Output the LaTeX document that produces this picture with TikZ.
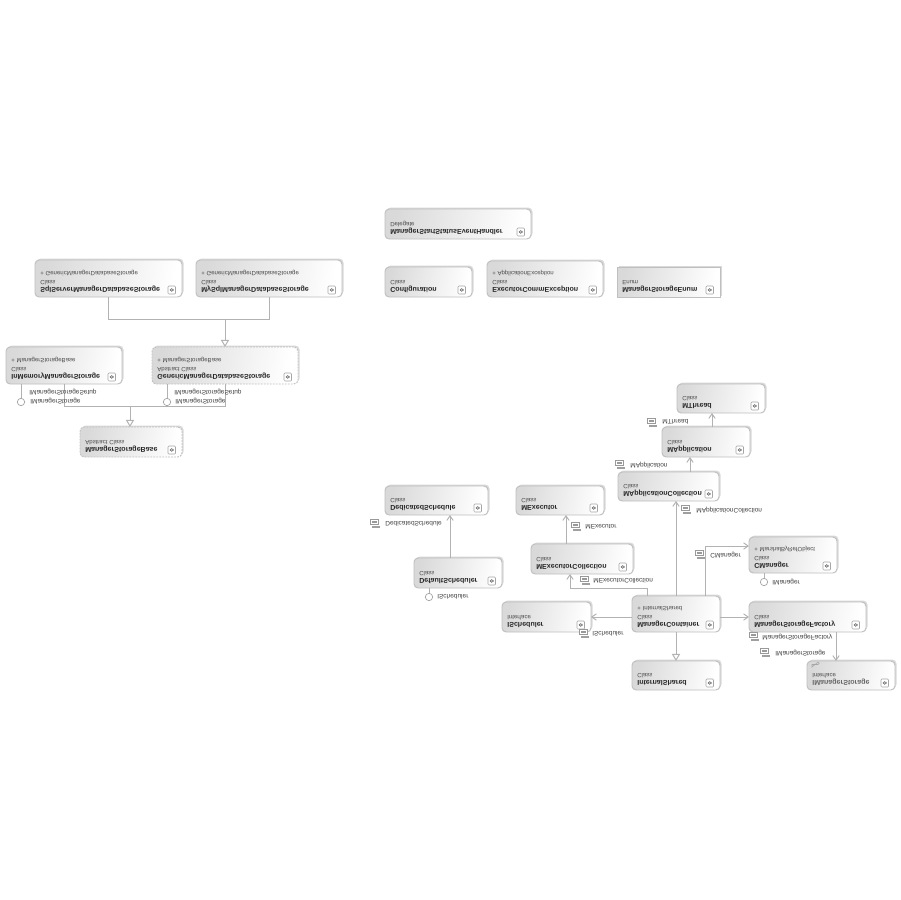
\documentclass[tikz,border=0pt]{standalone}
\usepackage{fontspec}
\setmainfont{Liberation Sans}
\usetikzlibrary{arrows.meta,calc}
\def\namecol{black!85}
\tikzset{
  x=0.02cm,y=-0.02cm,
  umlbox/.style={draw=gray!50,line width=0.55pt,rounded corners=2.4pt,left color=gray!30,right color=white,shading angle=80,outer sep=0,inner sep=0},
  umlshadow/.style={fill=gray!30,draw=none,rounded corners=2.4pt},
  finedash/.style={dash pattern=on 1pt off 0.7pt},
  nametext/.style={yscale=-1,anchor=base west,inner sep=0,font=\fontsize{4.02}{5}\selectfont\bfseries,text=\namecol},
  kindtext/.style={yscale=-1,anchor=base west,inner sep=0,font=\fontsize{3.45}{5}\selectfont,text=black!70},
  conlabel/.style={yscale=-1,anchor=west,inner sep=0,font=\fontsize{3.7}{5}\selectfont,text=black!75},
  lolli/.style={circle,draw=gray!70,fill=white,line width=0.4pt,minimum size=4.2pt,inner sep=0,outer sep=0},
  con/.style={draw=gray!60,line width=0.55pt},
  depend/.style={con,-{Straight Barb[length=2.6pt,width=3.6pt]}},
  inherit/.style={con,-{Triangle[open,fill=white,length=4pt,width=4.6pt]}},
}
\newcommand\ubox[9][]{%
  \fill[umlshadow,#1] (#2+1.5,#3-1.5) rectangle (#4+1.5,#5-1.5);
  \node[umlbox,#1,minimum width={(#4-#2)*0.02cm},minimum height={(#5-#3)*0.02cm}] (#6) at ({(#2+#4)/2},{(#3+#5)/2}) {};
  \node[nametext] at ($(#2,#5)+(5,-9.8)$) {#7};
  \node[kindtext] at ($(#2,#5)+(5,-16.8)$) {#8};
  \if\relax\detokenize{#9}\relax\else
  \node[kindtext] at ($(#2,#5)+(5,-25.5)$) {#9};
  \fi
  \draw[gray!70,line width=0.3pt,fill=white,rounded corners=0.5pt] (#4-14,#5-11) rectangle (#4-6.5,#5-3);
  \draw[gray!90!black,line width=0.3pt] (#4-12,#5-6.3) -- (#4-10.25,#5-8.5) -- (#4-8.5,#5-6.3) (#4-12,#5-7.9) -- (#4-10.25,#5-5.6) -- (#4-8.5,#5-7.9);
}
\newcommand\srvicon[2]{%
  \draw[gray!80,fill=white,line width=0.35pt] (#1-4.5,#2-4.5) rectangle (#1+3,#2+0.5);
  \draw[gray!80,line width=0.35pt] (#1-3,#2-3) -- (#1+1.5,#2-3) (#1-3,#2-1.5) -- (#1+1.5,#2-1.5);
  \fill[gray!75] (#1-3,#2+1.5) rectangle (#1+5,#2+4);
}
\begin{document}
\begin{tikzpicture}
\useasboundingbox (0,0) rectangle (900,900);
\fill[white] (0,0) rectangle (900,900);
% left hierarchy
\ubox{35}{260}{182}{297}{sqlsrv}{SqlServerManagerDatabaseStorage}{Class}{+ GenericManagerDatabaseStorage}
\ubox{196}{260}{342}{297}{mysql}{MySqlManagerDatabaseStorage}{Class}{+ GenericManagerDatabaseStorage}
\ubox{6}{347}{122}{384}{inmem}{InMemoryManagerStorage}{Class}{+ ManagerStorageBase}
\ubox[finedash]{152}{347}{298}{384}{generic}{GenericManagerDatabaseStorage}{Abstract Class}{+ ManagerStorageBase}
\ubox[finedash]{80}{427}{182}{457}{mbase}{ManagerStorageBase}{Abstract Class}{}
% top middle
\ubox{385}{209}{531}{239}{delegate}{ManagerStartStatusEventHandler}{Delegate}{}
\ubox{385}{267}{472}{297}{config}{Configuration}{Class}{}
\ubox{487}{261}{603}{297}{execex}{ExecutorCommException}{Class}{+ ApplicationException}
\ubox[rounded corners=0pt]{617}{267}{720}{297}{menum}{ManagerStorageEnum}{Enum}{}
% right cluster
\ubox{677}{384}{765}{413}{mthread}{MThread}{Class}{}
\ubox{662}{427}{750}{457}{mapp}{MApplication}{Class}{}
\ubox{618}{472}{719}{501}{mappc}{MApplicationCollection}{Class}{}
\ubox{385}{486}{488}{515}{dedic}{DedicatedSchedule}{Class}{}
\ubox{516}{486}{604}{515}{mexec}{MExecutor}{Class}{}
\ubox{414}{558}{502}{588}{defsch}{DefaultScheduler}{Class}{}
\ubox{531}{544}{633}{574}{mexecc}{MExecutorCollection}{Class}{}
\ubox{502}{602}{591}{632}{isched}{IScheduler}{Interface}{}
\ubox{632}{596}{720}{632}{mcont}{ManagerContainer}{Class}{+ InternalShared}
\ubox{749}{537}{837}{573}{cman}{CManager}{Class}{+ MarshalByRefObject}
\ubox{749}{602}{866}{632}{msfact}{ManagerStorageFactory}{Class}{}
\ubox{632}{661}{720}{690}{intsh}{InternalShared}{Class}{}
\def\namecol{black!60}
\ubox{807}{661}{895}{690}{imstor}{IManagerStorage}{Interface}{}
\def\namecol{black!85}
\draw[gray!70,line width=0.3pt] (812,664.5) -- (818,664.5) arc (90:-90:1.2) -- (812,667) -- cycle;
% generalisation
\coordinate (j1) at (225,319);
\draw[con] (sqlsrv.south) |- (j1);
\draw[con] (mysql.south) |- (j1);
\draw[inherit] (j1) -- (generic.north);
\coordinate (j2) at (130,406);
\draw[con] (inmem.south) |- (j2);
\draw[con] (generic.south) |- (j2);
\draw[inherit] (j2) -- (j2 |- mbase.north);
% lollipops
\node[lolli] (l1) at (21,402) {};
\node[lolli] (l2) at (167,402) {};
\node[lolli] (l3) at (429,597) {};
\node[lolli] (l4) at (764,582) {};
\draw[con] (l1.north |- inmem.south) -- (l1.north);
\draw[con] (l2.north |- generic.south) -- (l2.north);
\draw[con] (l3.north |- defsch.south) -- (l3.north);
\draw[con] (l4.north |- cman.south) -- (l4.north);
% associations
\coordinate (a1) at (712,420);
\coordinate (a2) at (690,465);
\coordinate (a3) at (676,550);
\coordinate (a4) at (450,535);
\coordinate (a5) at (566,530);
\coordinate (a6) at (647,588);
\coordinate (a7) at (570,588);
\coordinate (a8) at (705,546);
\coordinate (a9) at (836,645);
\draw[depend] (a1 |- mapp.north) -- (a1 |- mthread.south);
\draw[depend] (a2 |- mappc.north) -- (a2 |- mapp.south);
\draw[depend] (a3 |- mcont.north) -- (a3 |- mappc.south);
\draw[depend] (a4 |- defsch.north) -- (a4 |- dedic.south);
\draw[depend] (a5 |- mexecc.north) -- (a5 |- mexec.south);
\draw[depend] (a6 |- mcont.north) -- (a6) -- (a7) -- (a7 |- mexecc.south);
\draw[depend] (mcont.west |- isched.east) -- (isched.east);
\draw[depend] (a8 |- mcont.north) -- (a8) -- (a8 -| cman.west);
\draw[depend] (mcont.east |- msfact.west) -- (msfact.west);
\draw[depend] (a9 |- msfact.south) -- (a9 |- imstor.north);
\draw[inherit] (mcont.south) -- (intsh.north);
% labels
\node[conlabel] (t1) at (29,392) {IManagerStorageSetup};
\node[conlabel] (t2) at (30,401) {IManagerStorage};
\node[conlabel] (t3) at (174,392) {IManagerStorageSetup};
\node[conlabel] (t4) at (175,401) {IManagerStorage};
\node[conlabel] (t5) at (437,597) {IScheduler};
\node[conlabel] (t6) at (772,582) {IManager};
\node[conlabel] (t7) at (662,422) {MThread};
\node[conlabel] (t8) at (630,465) {MApplication};
\node[conlabel] (t9) at (696,510) {MApplicationCollection};
\node[conlabel] (t10) at (385,524) {DedicatedSchedule};
\node[conlabel] (t11) at (585,527) {MExecutor};
\node[conlabel] (t12) at (593,581) {MExecutorCollection};
\node[conlabel] (t13) at (592,634) {IScheduler};
\node[conlabel] (t14) at (710,555) {CManager};
\node[conlabel] (t15) at (762,637) {ManagerStorageFactory};
\node[conlabel] (t16) at (775,653) {IManagerStorage};
% member icons
\srvicon{652}{423}
\srvicon{620}{465}
\srvicon{686}{510}
\srvicon{375}{524}
\srvicon{576}{527}
\srvicon{585}{581}
\srvicon{584}{634}
\srvicon{700}{555}
\srvicon{754}{637}
\srvicon{765}{653}
\end{tikzpicture}
\end{document}
